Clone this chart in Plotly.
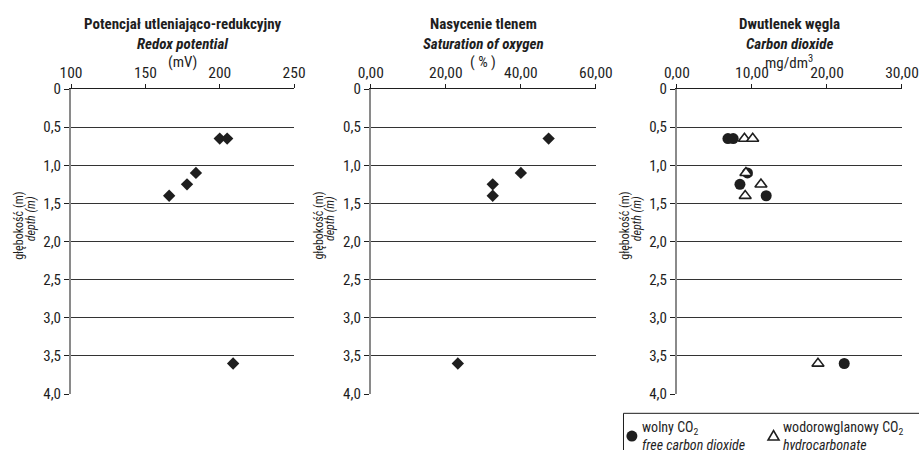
import plotly.graph_objects as go

# ---------------- data ----------------
depth_ticks = [0, 0.5, 1.0, 1.5, 2.0, 2.5, 3.0, 3.5, 4.0]
depth_labels = ["0", "0,5", "1,0", "1,5", "2,0", "2,5", "3,0", "3,5", "4,0"]

redox_ticks = [100, 150, 200, 250]
redox_labels = ["100", "150", "200", "250"]
redox_depth = [0.65, 0.65, 1.1, 1.25, 1.4, 3.6]
redox_mv = [200, 205, 184, 178, 166, 209]

oxy_ticks = [0, 20, 40, 60]
oxy_labels = ["0,00", "20,00", "40,00", "60,00"]
oxy_depth = [0.65, 1.1, 1.25, 1.4, 3.6]
oxy_pct = [47.4, 40.0, 32.5, 32.5, 23.2]

co2_ticks = [0, 10, 20, 30]
co2_labels = ["0,00", "10,00", "20,00", "30,00"]
free_depth = [0.65, 0.65, 1.1, 1.25, 1.4, 3.6]
free_co2 = [6.8, 7.5, 9.4, 8.4, 11.9, 22.3]
hydro_depth = [0.65, 0.65, 1.1, 1.25, 1.4, 3.6]
hydro_co2 = [9.0, 10.1, 9.2, 11.2, 9.1, 18.8]

titles_pl = ["Potencjał utleniająco-redukcyjny", "Nasycenie tlenem", "Dwutlenek węgla"]
titles_en = ["Redox potential", "Saturation of oxygen", "Carbon dioxide"]
units = ["(mV)", "( % )", "mg/dm<sup>3</sup>"]

# ---------------- layout geometry ----------------
W, H = 919, 450
ML, MR, MT, MB = 71, 17.3, 89.3, 56
PW = W - ML - MR
PH = H - MT - MB
panels_px = [(71, 294), (370.7, 595.7), (676.7, 901.7)]
FONT = "Liberation Sans Narrow, Arial Narrow, Roboto Condensed, DejaVu Sans Condensed, sans-serif"
INK = "#1e1e1e"


def px_x(px):
    return (px - ML) / PW


def px_y(py):
    return (H - MB - py) / PH


fig = go.Figure()

fig.add_trace(go.Scatter(x=redox_mv, y=redox_depth, mode="markers", xaxis="x", yaxis="y",
                         marker=dict(symbol="diamond", size=9.5, color=INK), showlegend=False))
fig.add_trace(go.Scatter(x=oxy_pct, y=oxy_depth, mode="markers", xaxis="x2", yaxis="y2",
                         marker=dict(symbol="diamond", size=9.5, color=INK), showlegend=False))
fig.add_trace(go.Scatter(x=free_co2, y=free_depth, mode="markers", xaxis="x3", yaxis="y3",
                         marker=dict(symbol="circle", size=11, color=INK), showlegend=False))
fig.add_trace(go.Scatter(x=hydro_co2, y=hydro_depth, mode="markers", xaxis="x3", yaxis="y3",
                         marker=dict(symbol="triangle-up", size=10.5, color="white",
                                     line=dict(color=INK, width=1.6)), showlegend=False))

xranges = [(100, 250), (0, 60), (0, 30)]
xt = [(redox_ticks, redox_labels), (oxy_ticks, oxy_labels), (co2_ticks, co2_labels)]

layout = dict(
    width=W, height=H,
    margin=dict(l=ML, r=MR, t=MT, b=MB, autoexpand=False),
    paper_bgcolor="white", plot_bgcolor="white",
    font=dict(family=FONT, size=15, color=INK),
    showlegend=False,
)

annotations = []
shapes = []
for i in range(3):
    sfx = "" if i == 0 else str(i + 1)
    x0, x1 = panels_px[i]
    layout["xaxis" + sfx] = dict(
        domain=[px_x(x0), px_x(x1)], range=list(xranges[i]), side="top",
        anchor="y" + sfx, showline=True, linecolor=INK, linewidth=1,
        ticks="outside", ticklen=4, tickcolor=INK, tickwidth=1,
        tickvals=xt[i][0], ticktext=xt[i][1], showgrid=False, zeroline=False,
        tickfont=dict(size=15.5), fixedrange=True,
    )
    layout["yaxis" + sfx] = dict(
        domain=[0, 1], range=[4.0, 0], anchor="x" + sfx,
        showline=True, linecolor="#8a8a8a", linewidth=2,
        ticks="outside", ticklen=5, tickcolor=INK, tickwidth=1,
        tickvals=depth_ticks, ticktext=depth_labels,
        showgrid=True, gridcolor="#333333", gridwidth=1, zeroline=False,
        tickfont=dict(size=15), fixedrange=True,
    )
    cx = px_x((x0 + x1) / 2)
    annotations.append(dict(text="<b>" + titles_pl[i] + "</b>", x=cx, y=px_y(24), xref="paper", yref="paper",
                            showarrow=False, xanchor="center", yanchor="middle", font=dict(size=15)))
    annotations.append(dict(text="<b><i>" + titles_en[i] + "</i></b>", x=cx, y=px_y(44), xref="paper", yref="paper",
                            showarrow=False, xanchor="center", yanchor="middle", font=dict(size=15)))
    annotations.append(dict(text=units[i], x=cx, y=px_y(62), xref="paper", yref="paper",
                            showarrow=False, xanchor="center", yanchor="middle", font=dict(size=15)))
    annotations.append(dict(text="głębokość (m)", x=px_x(x0 - 52), y=px_y(226), xref="paper", yref="paper",
                            showarrow=False, xanchor="center", yanchor="middle", textangle=-90,
                            font=dict(size=12)))
    annotations.append(dict(text="<i>depth (m)</i>", x=px_x(x0 - 40.5), y=px_y(219), xref="paper", yref="paper",
                            showarrow=False, xanchor="center", yanchor="middle", textangle=-90,
                            font=dict(size=12)))

# ---------------- legend (drawn manually, clipped at the page edge like the original) ----------------
shapes.append(dict(type="rect", xref="paper", yref="paper", x0=px_x(623.3), x1=px_x(935),
                   y0=px_y(413.3), y1=px_y(470), line=dict(color=INK, width=1), fillcolor="rgba(0,0,0,0)"))
shapes.append(dict(type="circle", xref="paper", yref="paper", xsizemode="pixel", ysizemode="pixel",
                   xanchor=px_x(631.7), yanchor=px_y(436), x0=-5.5, x1=5.5, y0=-5.5, y1=5.5,
                   fillcolor=INK, line=dict(color=INK, width=0)))
shapes.append(dict(type="path", xref="paper", yref="paper", xsizemode="pixel", ysizemode="pixel",
                   xanchor=px_x(773.3), yanchor=px_y(436), path="M-5.5,-4 L5.5,-4 L0,5.5 Z",
                   fillcolor="white", line=dict(color=INK, width=1.6)))

annotations.append(dict(text="wolny CO<sub>2</sub>", x=px_x(640), y=px_y(428), xref="paper", yref="paper",
                        showarrow=False, xanchor="left", yanchor="middle", font=dict(size=14)))
annotations.append(dict(text="<i>free carbon dioxide</i>", x=px_x(640), y=px_y(445), xref="paper", yref="paper",
                        showarrow=False, xanchor="left", yanchor="middle", font=dict(size=14)))
annotations.append(dict(text="wodorowglanowy CO<sub>2</sub>", x=px_x(780.5), y=px_y(428), xref="paper", yref="paper",
                        showarrow=False, xanchor="left", yanchor="middle", font=dict(size=14)))
annotations.append(dict(text="<i>hydrocarbonate</i>", x=px_x(780.5), y=px_y(445), xref="paper", yref="paper",
                        showarrow=False, xanchor="left", yanchor="middle", font=dict(size=14)))

layout["annotations"] = annotations
layout["shapes"] = shapes
fig.update_layout(**layout)

# remove the browser's default 8px page margin so the figure sits at the window's corner
fig.write_html("out.html", config={"displayModeBar": False},
               post_script="document.body.style.margin='0';document.body.style.overflow='hidden';")
